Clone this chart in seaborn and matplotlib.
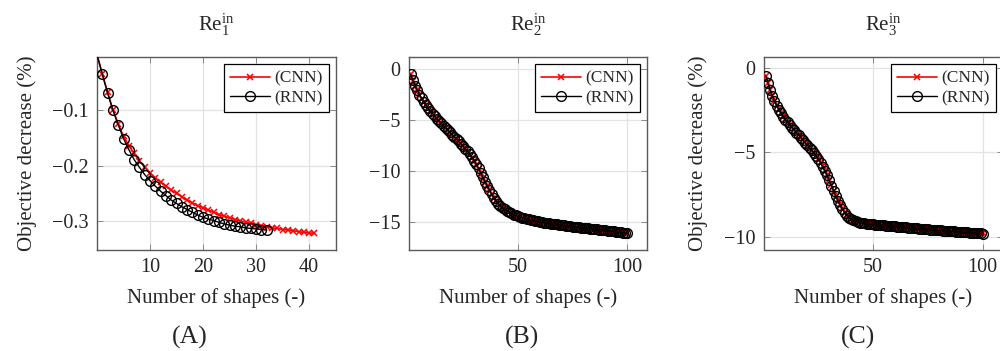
import matplotlib
matplotlib.use("Agg")
import matplotlib.pyplot as plt
import seaborn as sns
import pandas as pd

# ---------------------------------------------------------------- data
# Case Re_1^in (starts from the initial shape at x = 0)
re1_cnn_x = list(range(0, 42))
re1_cnn_y = [0.0,
             -0.035, -0.068, -0.099, -0.125, -0.147, -0.164, -0.178, -0.191, -0.203, -0.213,
             -0.222, -0.230, -0.237, -0.244, -0.250, -0.256, -0.262, -0.267, -0.272, -0.276,
             -0.280, -0.284, -0.288, -0.291, -0.294, -0.297, -0.299, -0.302, -0.304, -0.306,
             -0.308, -0.310, -0.312, -0.313, -0.315, -0.316, -0.317, -0.319, -0.320, -0.321,
             -0.322]
re1_rnn_x = list(range(0, 33))
re1_rnn_y = [0.0,
             -0.035, -0.069, -0.100, -0.126, -0.151, -0.171, -0.189, -0.203, -0.216, -0.227,
             -0.237, -0.246, -0.254, -0.262, -0.268, -0.274, -0.279, -0.284, -0.289, -0.293,
             -0.296, -0.299, -0.302, -0.305, -0.307, -0.309, -0.310, -0.312, -0.313, -0.314,
             -0.315, -0.316]

# Case Re_2^in
re2_x = list(range(1, 101))
re2_rnn_y = [-0.55, -1.15, -1.65, -2.10, -2.55, -2.90, -3.25, -3.58, -3.88, -4.15,
             -4.40, -4.65, -4.90, -5.13, -5.36, -5.58, -5.80, -6.02, -6.24, -6.46,
             -6.68, -6.90, -7.12, -7.35, -7.58, -7.83, -8.10, -8.38, -8.68, -9.00,
             -9.35, -9.75, -10.20, -10.62, -11.05, -11.48, -11.90, -12.28, -12.62, -12.93,
             -13.20, -13.43, -13.62, -13.78, -13.92, -14.05, -14.17, -14.28, -14.37, -14.45,
             -14.52, -14.59, -14.65, -14.71, -14.76, -14.81, -14.86, -14.90, -14.94, -14.98,
             -15.02, -15.06, -15.09, -15.13, -15.16, -15.19, -15.22, -15.25, -15.28, -15.31,
             -15.34, -15.37, -15.40, -15.42, -15.45, -15.47, -15.50, -15.52, -15.55, -15.57,
             -15.60, -15.62, -15.65, -15.67, -15.70, -15.72, -15.75, -15.77, -15.80, -15.82,
             -15.85, -15.87, -15.90, -15.92, -15.95, -15.98, -16.01, -16.04, -16.08, -16.12]
re2_cnn_y = [-0.56, -1.17, -1.68, -2.13, -2.57, -2.93, -3.27, -3.60, -3.90, -4.18,
             -4.43, -4.68, -4.92, -5.15, -5.38, -5.60, -5.82, -6.04, -6.26, -6.48,
             -6.70, -6.92, -7.14, -7.37, -7.60, -7.85, -8.12, -8.40, -8.70, -9.03,
             -9.38, -9.78, -10.22, -10.65, -11.08, -11.50, -11.92, -12.30, -12.64, -12.95,
             -13.22, -13.45, -13.64, -13.80, -13.94, -14.07, -14.19, -14.30, -14.39, -14.47,
             -14.54, -14.61, -14.67, -14.73, -14.78, -14.83, -14.88, -14.92, -14.96, -15.00,
             -15.04, -15.08, -15.11, -15.15, -15.18, -15.21, -15.24, -15.27, -15.30, -15.33,
             -15.36, -15.39, -15.41, -15.44, -15.46, -15.49, -15.51, -15.54, -15.56, -15.59,
             -15.61, -15.64, -15.66, -15.69, -15.71, -15.74, -15.76, -15.79, -15.81, -15.84,
             -15.86, -15.89, -15.91, -15.94, -15.96, -15.99, -16.02, -16.05, -16.09, -16.13]

# Case Re_3^in
re3_x = list(range(1, 101))
re3_rnn_y = [-0.45, -0.90, -1.30, -1.65, -1.95, -2.22, -2.46, -2.68, -2.88, -3.05,
             -3.21, -3.37, -3.52, -3.67, -3.82, -3.97, -4.12, -4.27, -4.42, -4.57,
             -4.72, -4.88, -5.04, -5.21, -5.40, -5.61, -5.84, -6.09, -6.36, -6.66,
             -6.97, -7.28, -7.58, -7.86, -8.12, -8.36, -8.57, -8.74, -8.87, -8.96,
             -9.03, -9.08, -9.12, -9.15, -9.18, -9.20, -9.22, -9.24, -9.25, -9.26,
             -9.27, -9.28, -9.30, -9.31, -9.32, -9.33, -9.34, -9.35, -9.36, -9.37,
             -9.39, -9.40, -9.41, -9.42, -9.44, -9.45, -9.46, -9.47, -9.49, -9.50,
             -9.51, -9.52, -9.53, -9.55, -9.56, -9.57, -9.58, -9.59, -9.60, -9.61,
             -9.62, -9.63, -9.64, -9.65, -9.66, -9.67, -9.68, -9.69, -9.70, -9.71,
             -9.72, -9.73, -9.74, -9.75, -9.76, -9.77, -9.78, -9.79, -9.80, -9.81]
re3_cnn_y = [-0.44, -0.88, -1.28, -1.63, -1.93, -2.20, -2.44, -2.66, -2.86, -3.03,
             -3.19, -3.35, -3.50, -3.65, -3.80, -3.95, -4.10, -4.25, -4.40, -4.55,
             -4.70, -4.86, -5.02, -5.19, -5.38, -5.59, -5.82, -6.07, -6.34, -6.64,
             -6.95, -7.26, -7.56, -7.84, -8.10, -8.34, -8.55, -8.72, -8.85, -8.94,
             -9.01, -9.06, -9.10, -9.13, -9.16, -9.18, -9.20, -9.22, -9.23, -9.24,
             -9.25, -9.27, -9.28, -9.29, -9.30, -9.31, -9.33, -9.34, -9.35, -9.36,
             -9.37, -9.38, -9.40, -9.41, -9.42, -9.43, -9.44, -9.46, -9.47, -9.48,
             -9.49, -9.50, -9.52, -9.53, -9.54, -9.55, -9.56, -9.57, -9.58, -9.60,
             -9.61, -9.62, -9.63, -9.64, -9.65, -9.66, -9.67, -9.68, -9.69, -9.70,
             -9.71, -9.72, -9.73, -9.74, -9.75, -9.76, -9.77, -9.78, -9.79, -9.80]

titles = [r"$\mathrm{Re}_{1}^{\mathrm{in}}$", r"$\mathrm{Re}_{2}^{\mathrm{in}}$",
          r"$\mathrm{Re}_{3}^{\mathrm{in}}$"]
panel_tags = ["(A)", "(B)", "(C)"]
series_names = ["(CNN)", "(RNN)"]

# ---------------------------------------------------------------- style
sns.set_style("white")
plt.rcParams["font.family"] = ["Liberation Serif", "DejaVu Serif"]
plt.rcParams["mathtext.fontset"] = "custom"
plt.rcParams["mathtext.rm"] = "Liberation Serif"
plt.rcParams["mathtext.it"] = "Liberation Serif:italic"
plt.rcParams["axes.unicode_minus"] = True

W, H = 1000, 351
fig = plt.figure(figsize=(W / 100, H / 100), dpi=100)

def px_axes(left, right, top, bottom):
    return fig.add_axes([left / W, 1 - bottom / H, (right - left) / W, (bottom - top) / H])

ax_a = px_axes(97, 335.7, 57.5, 249.5)
ax_b = px_axes(408.5, 647, 57.5, 249.5)
ax_c = px_axes(763.5, 1002.5, 57.5, 249.5)
axes = [ax_a, ax_b, ax_c]

panels = [
    (re1_cnn_x, re1_cnn_y, re1_rnn_x, re1_rnn_y, slice(1, None)),
    (re2_x, re2_cnn_y, re2_x, re2_rnn_y, None),
    (re3_x, re3_cnn_y, re3_x, re3_rnn_y, None),
]

for ax, (cx, cy, rx, ry, mev) in zip(axes, panels):
    cnn = pd.DataFrame({"shapes": cx, "decrease": cy})
    rnn = pd.DataFrame({"shapes": rx, "decrease": ry})
    sns.lineplot(data=cnn, x="shapes", y="decrease", ax=ax, color="red",
                 marker="x", markersize=5, markeredgewidth=1.1,
                 markeredgecolor="red", linewidth=1.2, markevery=mev,
                 label=series_names[0], zorder=3)
    sns.lineplot(data=rnn, x="shapes", y="decrease", ax=ax, color="black",
                 marker="o", markersize=7, markeredgewidth=1.0,
                 markeredgecolor="black", markerfacecolor="none",
                 linewidth=1.0, markevery=mev, label=series_names[1], zorder=4)

ax_a.set_xlim(0, 45)
ax_a.set_ylim(-0.351, -0.005)
ax_a.set_xticks([10, 20, 30, 40])
ax_a.set_yticks([-0.1, -0.2, -0.3])
ax_a.set_yticklabels(["\u22120.1", "\u22120.2", "\u22120.3"])

ax_b.set_xlim(0, 109)
ax_b.set_ylim(-17.7, 1.1)
ax_b.set_xticks([50, 100])
ax_b.set_yticks([0, -5, -10, -15])

ax_c.set_xlim(0, 109)
ax_c.set_ylim(-10.75, 0.63)
ax_c.set_xticks([50, 100])
ax_c.set_yticks([0, -5, -10])

for i, ax in enumerate(axes):
    ax.grid(True, color="#e3e3e3", linewidth=0.9, zorder=0)
    ax.set_axisbelow(True)
    for sp in ax.spines.values():
        sp.set_color("#5a5a5a")
        sp.set_linewidth(1.0)
        sp.set_visible(True)
    ax.tick_params(axis="both", which="major", direction="in", length=4,
                   width=0.7, color="#8a8a8a", labelsize=14.5, pad=6,
                   top=True, right=True, bottom=True, left=True)
    ax.set_xlabel("Number of shapes (-)", fontsize=15, labelpad=8)
    if i != 1:
        ax.set_ylabel("Objective decrease (%)", fontsize=15, labelpad=11)
    else:
        ax.set_ylabel("")
    ax.set_title(titles[i], fontsize=15, pad=19)
    leg = ax.legend(loc="upper right", fontsize=12.5, frameon=True, fancybox=False,
                    framealpha=1.0, edgecolor="black", borderaxespad=0.4,
                    handlelength=2.3, handletextpad=0.25, labelspacing=0.2,
                    borderpad=0.35, numpoints=1)
    leg.get_frame().set_linewidth(0.9)

tag_x = [190, 522.5, 857.5]
for tx, tag in zip(tag_x, panel_tags):
    fig.text(tx / W, 1 - 337 / H, tag, fontsize=18.5, ha="center", va="center")

fig.savefig("out.png", dpi=100)
